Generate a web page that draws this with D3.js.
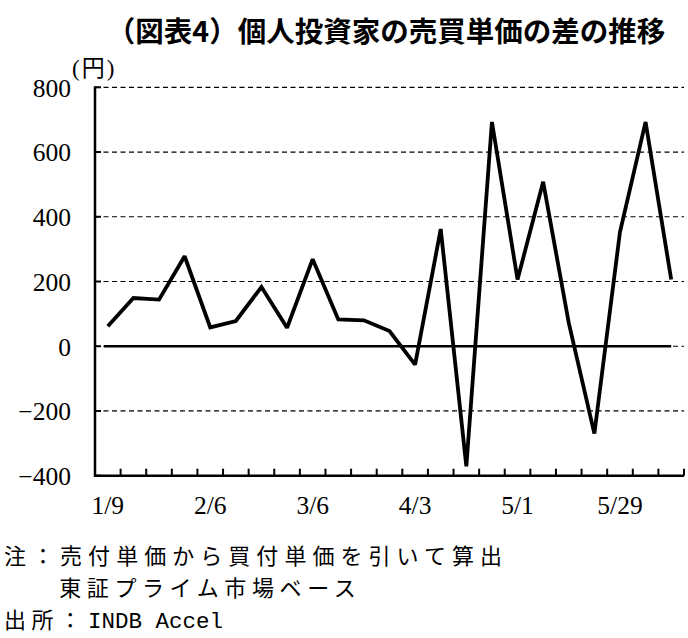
<!DOCTYPE html>
<html><head><meta charset="utf-8">
<script src="https://cdn.jsdelivr.net/npm/d3@7"></script>
<style>
body{margin:0;background:#fff;}
svg{display:block;}
</style></head>
<body>
<script>
const dates = ["1/9","1/16","1/23","1/30","2/6","2/13","2/20","2/27","3/6","3/13","3/20","3/27","4/3","4/10","4/17","4/24","5/1","5/8","5/15","5/22","5/29","6/5","6/12"];
const values = [62,149,144,278,58,78,183,57,269,83,80,47,-57,362,-371,693,206,508,72,-270,353,693,206];
const labelDates = ["1/9","2/6","3/6","4/3","5/1","5/29"];
const yTicks = [800,600,400,200,0,-200,-400];
const title = "（図表4）個人投資家の売買単価の差の推移";
const unit = "(円)";
const notes = ["注：売付単価から買付単価を引いて算出","　　東証プライム市場ベース"];
const sourceLabel = "出所：";
const sourceName = "INDB Accel";

(function(){
const W = 688, H = 638;
const svg = d3.select("body").append("svg").attr("width", W).attr("height", H);
const pL = 95, pR = 684, pT = 87.3, pB = 475.7;

const x = d3.scaleBand().domain(dates).range([pL, pR]).padding(0);
const y = d3.scaleLinear().domain([-400, 800]).range([pB, pT]);
const cx = d => x(d) + x.bandwidth()/2;

const serif = "'Liberation Serif','Noto Sans CJK JP',serif";
const cjk = "'Noto Sans CJK JP',sans-serif";

// title
svg.append("text").attr("x", 386).attr("y", 42).attr("text-anchor","middle")
  .attr("font-family", cjk).attr("font-weight", "bold").attr("font-size", 28.5)
  .attr("fill","#000").text(title);

// gridlines
svg.append("g").selectAll("line").data(yTicks.filter(v => v !== -400)).join("line")
  .attr("x1", pL).attr("x2", pR).attr("y1", d => y(d)).attr("y2", d => y(d))
  .attr("stroke", "#000").attr("stroke-width", 1.2).attr("stroke-dasharray", "5,3.5");

// y axis
const yAxis = d3.axisLeft(y).tickValues(yTicks).tickSize(0).tickPadding(24)
  .tickFormat(d => d < 0 ? "\u2212" + Math.abs(d) : d);
const gy = svg.append("g").attr("transform", `translate(${pL},0)`).call(yAxis);
gy.select(".domain").remove();
gy.selectAll("text").attr("font-family", serif).attr("font-size", 25.5).attr("fill","#000")
  .attr("dy", "0.35em");
svg.append("g").selectAll("line").data(yTicks).join("line")
  .attr("x1", pL).attr("x2", pL + 6).attr("y1", d => y(d)).attr("y2", d => y(d))
  .attr("stroke", "#000").attr("stroke-width", 2);

// x axis ticks at band boundaries (inward)
const bounds = dates.map(d => x(d)).concat([pR]);
svg.append("g").selectAll("line").data(bounds.slice(1)).join("line")
  .attr("x1", d => d).attr("x2", d => d).attr("y1", pB).attr("y2", pB - 7)
  .attr("stroke", "#000").attr("stroke-width", 2);

// axis lines
svg.append("line").attr("x1", pL).attr("x2", pL).attr("y1", pT - 1).attr("y2", pB + 1)
  .attr("stroke","#000").attr("stroke-width", 2.5);
svg.append("line").attr("x1", pL - 1).attr("x2", pR).attr("y1", pB).attr("y2", pB)
  .attr("stroke","#000").attr("stroke-width", 2.5);

// x labels
svg.append("g").selectAll("text").data(labelDates).join("text")
  .attr("x", d => cx(d)).attr("y", 514).attr("text-anchor","middle")
  .attr("font-family", serif).attr("font-size", 25.5).attr("fill","#000").text(d => d);

// zero line
svg.append("line").attr("x1", cx(dates[0]) - 4).attr("x2", cx(dates[dates.length-1]))
  .attr("y1", y(0)).attr("y2", y(0)).attr("stroke","#000").attr("stroke-width", 2.5);

// data line
const line = d3.line().x((d,i) => cx(dates[i])).y(d => y(d));
svg.append("path").datum(values).attr("d", line).attr("fill","none")
  .attr("stroke","#000").attr("stroke-width", 3.8).attr("stroke-linejoin","miter").attr("stroke-miterlimit", 2.2);

// unit
svg.append("text").attr("x", 72).attr("y", 76).attr("font-family", serif).attr("font-size", 23)
  .attr("letter-spacing", 2).attr("fill","#000").text(unit);

// notes
const fs = 22;
notes.forEach((t, i) => {
  const tx = svg.append("text").attr("x", 4).attr("y", 564 + i*32).attr("font-family", cjk)
    .attr("font-size", fs).attr("fill","#000").text(t);
  if (i === 0) tx.attr("textLength", 498);
  else tx.attr("letter-spacing", 5.6);
});
const src = svg.append("text").attr("x", 4).attr("y", 628).attr("font-size", fs).attr("fill","#000");
src.append("tspan").attr("font-family", cjk).attr("letter-spacing", 5.6).text(sourceLabel);
src.append("tspan").attr("x", 88).attr("font-family", "'Liberation Mono',monospace")
  .attr("font-size", 22.5).text(sourceName);
})();
</script>
</body></html>
